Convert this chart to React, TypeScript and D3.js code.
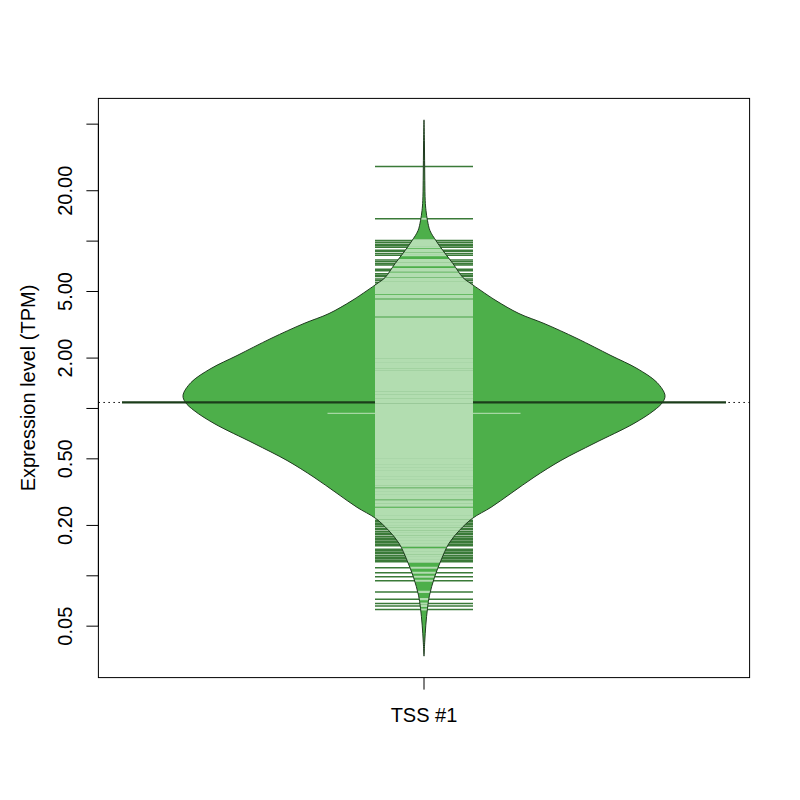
import React from "react";
import * as d3 from "d3";

// ---------- data ----------
const categories = ["TSS #1"];
const yTickValues = [0.05, 0.1, 0.2, 0.5, 1, 2, 5, 10, 20, 50];
const yTickLabels = ["0.05", "", "0.20", "0.50", "", "2.00", "5.00", "", "20.00", ""];
const yTitle = "Expression level (TPM)";

// bean outline: density (half-width units) at expression levels
const densityTPM = [53.05, 39.77, 30.2, 22.95, 17.43, 15.19, 13.24, 11.54, 10.06, 8.77, 7.33, 6.05, 5.57, 5.06, 4.41, 3.69, 3.22, 2.62, 2.07, 1.733, 1.429, 1.196, 1.086, 0.973, 0.814, 0.618, 0.489, 0.388, 0.311, 0.2566, 0.2206, 0.187, 0.1564, 0.1238, 0.098, 0.0766, 0.064, 0.0507, 0.0401, 0.0331];
const densityValue = [0, 0.4, 0.6, 0.8, 1.2, 2, 3.5, 6, 12, 19, 29, 39, 47, 57, 72, 95, 120, 153, 187, 213, 233, 241, 238.5, 230, 210, 170, 137, 110, 87, 67, 48.5, 35.5, 25, 17, 10.5, 5.5, 3.5, 1.8, 0.7, 0];

// individual observations (bean lines)
const upperTPM = [27.9, 13.6, 10.1, 9.86, 9.59, 9.39, 9.2, 8.83, 8.71, 8.42, 8.24, 7.7, 7.54, 7.33, 7.19, 6.8, 6.66, 6.39, 6.26, 6.14, 5.93, 5.81, 5.65, 5.53, 5.42, 5.31];
const coreTPM = [
  5.20, 5.10, 4.99, 4.89, 4.69, 4.60, 4.41, 4.32,
  4.23, 4.15, 4.06, 3.98, 3.90, 3.82, 3.74, 3.66, 3.59, 3.45,
  3.37, 3.31, 3.24, 3.17, 3.11, 3.04, 2.98, 2.92, 2.86,
  2.80, 2.75, 2.69, 2.64, 2.58, 2.53, 2.48, 2.43, 2.38, 2.33,
  2.28, 2.23, 2.19, 2.14, 2.10, 2.06, 2.02, 1.97, 1.93, 1.90,
  1.86, 1.82, 1.78, 1.75, 1.71, 1.67, 1.64, 1.61, 1.57, 1.54,
  1.51, 1.48, 1.45, 1.42, 1.39, 1.36, 1.34, 1.31, 1.28, 1.25,
  1.23, 1.20, 1.18, 1.16, 1.13, 1.11, 1.09, 1.06, 1.04, 1.02,
  1.00, 0.980, 0.960, 0.940, 0.921, 0.902, 0.884, 0.866, 0.848, 0.831,
  0.814, 0.797, 0.781, 0.765, 0.749, 0.734, 0.719, 0.705, 0.690, 0.676,
  0.662, 0.649, 0.636, 0.623, 0.610, 0.597, 0.585, 0.573, 0.562, 0.550,
  0.539, 0.528, 0.517, 0.507, 0.496, 0.486, 0.476, 0.467, 0.457, 0.448,
  0.439, 0.430, 0.421, 0.412, 0.404, 0.396, 0.388, 0.380, 0.372, 0.364,
  0.357, 0.350, 0.342, 0.329, 0.322, 0.315, 0.309, 0.303, 0.296,
  0.290, 0.279, 0.273, 0.267, 0.262, 0.251, 0.246, 0.241,
  0.236, 0.232, 0.227, 0.222,
];
const lowerTPM = [0.2146, 0.2102, 0.2059, 0.2017, 0.1976, 0.1922, 0.1883, 0.1832, 0.1795, 0.1758, 0.171, 0.1675, 0.1641, 0.1608, 0.1575, 0.1543, 0.1512, 0.1441, 0.1411, 0.1382, 0.1354, 0.1317, 0.1291, 0.1264, 0.1238, 0.1213, 0.1117, 0.1043, 0.0987, 0.0934, 0.0801, 0.0725, 0.0683, 0.0661, 0.0629];

const beanAverageTPM = 1.086; // bean average line
const overallAverageTPM = 1.086; // dotted overall line
const beanMeanTPM = 0.934; // light inner line

// ---------- layout ----------
const W = 800;
const H = 800;
const margin = { left: 98.4, right: 50.4, top: 98.4, bottom: 122.4 };
const beanHalf = 241;
const averageHalf = 302;
const beanlineHalf = 49;
const meanHalf = 96.5;

const COL_FILL = "#4DAF4A";
const COL_BORDER = "#1f3b1f";
const COL_DARKLINE = "#3a7a38";
const COL_LIGHTLINE = "#B2DDB0";
const COL_AVG = "#1b3d1a";
const FONT = "'Liberation Sans', Arial, Helvetica, sans-serif";

export default function App() {
  const x0 = margin.left;
  const x1 = W - margin.right;
  const y0 = H - margin.bottom;
  const y1 = margin.top;

  const x = d3.scalePoint<string>().domain(categories).range([x0, x1]).padding(0.5);

  const ext = d3.extent(densityTPM) as [number, number];
  const lo = Math.log10(ext[0]);
  const hi = Math.log10(ext[1]);
  const pad = (hi - lo) * 0.04;
  const y = d3.scaleLog().domain([10 ** (lo - pad), 10 ** (hi + pad)]).range([y0, y1]);

  const wScale = d3.scaleLinear().domain([0, d3.max(densityValue) as number]).range([0, beanHalf]);

  const cx = x(categories[0]) as number;
  const pts = densityTPM.map((v, i) => ({ v, w: densityValue[i] }));
  const area = d3
    .area<{ v: number; w: number }>()
    .y((d) => y(d.v))
    .x0((d) => cx - wScale(d.w))
    .x1((d) => cx + wScale(d.w))
    .curve(d3.curveCatmullRom);
  const beanPath = area(pts) || "";

  const allLines = [...upperTPM, ...coreTPM, ...lowerTPM];

  return (
    <svg width={W} height={H} style={{ position: "absolute", left: 0, top: 0, background: "#fff" }} fontFamily={FONT}>
      <defs>
        <clipPath id="beanClip">
          <path d={beanPath} />
        </clipPath>
      </defs>
      <rect x={0} y={0} width={W} height={H} fill="#fff" />

      {/* overall dotted line */}
      <line x1={x0} x2={x1} y1={y(overallAverageTPM)} y2={y(overallAverageTPM)} stroke="#000" strokeWidth={1} strokeDasharray="1.5,3.5" />

      {/* bean fill */}
      <path d={beanPath} fill={COL_FILL} stroke="none" />

      {/* average line */}
      <line x1={cx - averageHalf} x2={cx + averageHalf} y1={y(beanAverageTPM)} y2={y(beanAverageTPM)} stroke={COL_AVG} strokeWidth={2.2} />
      <line x1={cx - meanHalf} x2={cx + meanHalf} y1={y(beanMeanTPM)} y2={y(beanMeanTPM)} stroke="#a6d7a3" strokeWidth={1.3} />

      {/* bean lines: dark outside */}
      <g>
        {allLines.map((v, i) => (
          <line key={"d" + i} x1={cx - beanlineHalf} x2={cx + beanlineHalf} y1={y(v)} y2={y(v)} stroke={COL_DARKLINE} strokeWidth={1.5} />
        ))}
      </g>
      {/* bean lines: light inside bean */}
      <g clipPath="url(#beanClip)">
        {allLines.map((v, i) => (
          <line key={"l" + i} x1={cx - beanlineHalf} x2={cx + beanlineHalf} y1={y(v)} y2={y(v)} stroke={COL_LIGHTLINE} strokeWidth={2.1} />
        ))}
      </g>

      {/* bean border */}
      <path d={beanPath} fill="none" stroke={COL_BORDER} strokeWidth={1} />

      {/* box */}
      <rect x={x0} y={y1} width={x1 - x0} height={y0 - y1} fill="none" stroke="#000" strokeWidth={1} />

      {/* y axis */}
      <line x1={x0} x2={x0} y1={y(yTickValues[0])} y2={y(yTickValues[yTickValues.length - 1])} stroke="#000" />
      {yTickValues.map((v, i) => (
        <g key={"yt" + i}>
          <line x1={x0 - 12} x2={x0} y1={y(v)} y2={y(v)} stroke="#000" />
          {yTickLabels[i] && (
            <text transform={`translate(${x0 - 26},${y(v)}) rotate(-90)`} textAnchor="middle" fontSize={20} fill="#000">
              {yTickLabels[i]}
            </text>
          )}
        </g>
      ))}
      <text transform={`translate(35,${(y0 + y1) / 2}) rotate(-90)`} textAnchor="middle" fontSize={20} fill="#000">
        {yTitle}
      </text>

      {/* x axis */}
      {categories.map((c) => (
        <g key={c}>
          <line x1={x(c)} x2={x(c)} y1={y0} y2={y0 + 12} stroke="#000" />
          <text x={x(c)} y={722} textAnchor="middle" fontSize={20} fill="#000">
            {c}
          </text>
        </g>
      ))}
    </svg>
  );
}
